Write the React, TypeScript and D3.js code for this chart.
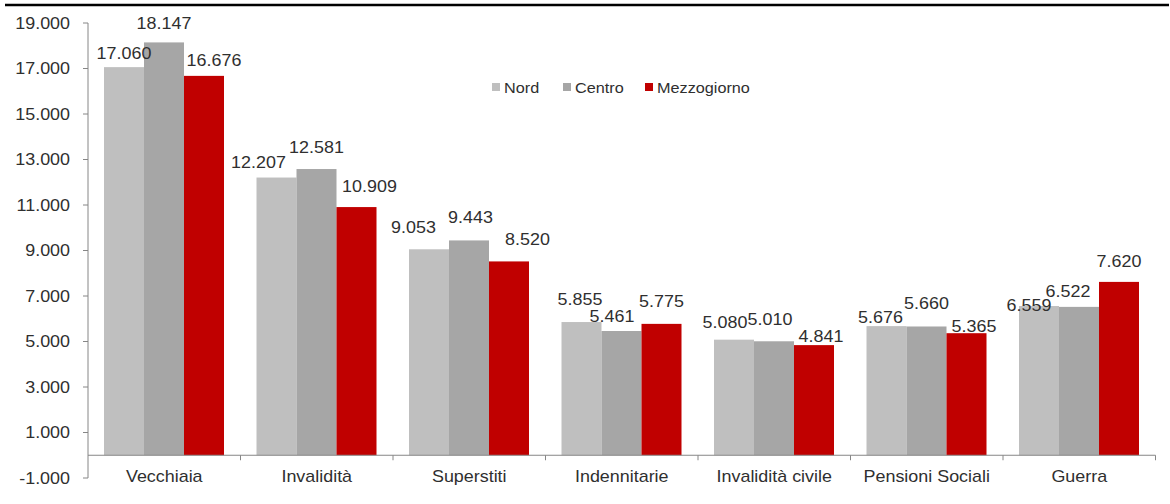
import React from 'react';
import * as d3 from 'd3';

const categories = ['Vecchiaia', 'Invalidità', 'Superstiti', 'Indennitarie', 'Invalidità civile', 'Pensioni Sociali', 'Guerra'];
const seriesNames = ['Nord', 'Centro', 'Mezzogiorno'];
const nord = [17060, 12207, 9053, 5855, 5080, 5676, 6559];
const centro = [18147, 12581, 9443, 5461, 5010, 5660, 6522];
const mezzogiorno = [16676, 10909, 8520, 5775, 4841, 5365, 7620];
const yTicks = [-1000, 1000, 3000, 5000, 7000, 9000, 11000, 13000, 15000, 17000, 19000];
const colors = ['#bfbfbf', '#a6a6a6', '#c00000'];

// hand-placed label nudges, as in the original: [dx, gap above bar top] per category, per series
const labelNudge = [
  [[0, 8], [0, 13], [10, 10]],
  [[-18, 9.5], [0, 16.5], [13, 15.5]],
  [[-15.5, 16], [1.5, 17], [18.5, 16]],
  [[-1.5, 17], [-9.5, 9.5], [0, 17]],
  [[-9, 11.5], [-4, 16], [7, 3.5]],
  [[-6, 3], [0, 17], [7.5, 1.5]],
  [[-10, -4.5], [-11, 10], [0, 15]],
];

const it = d3.formatLocale({ decimal: ',', thousands: '.', grouping: [3], currency: ['€', ''], minus: '-' });
const fmt = it.format(',d');

const W = 1170;
const H = 504;
const left = 88;
const right = 1155.5;
const axisCol = '#868686';
const textCol = '#2f2f2f';
const font = '"Liberation Sans", Arial, sans-serif';
const sx = 1.12;

const App = () => {
  const series = [nord, centro, mezzogiorno];
  const y = d3.scaleLinear().domain([-1000, 19000]).range([478, 23]);
  const x0 = d3.scaleBand().domain(categories).range([left, right]).padding(0);
  const x1 = d3.scaleBand().domain(seriesNames).range([16, x0.bandwidth() - 16.5]).padding(0);
  const y0 = y(0);

  const T = (props: { x: number; y: number; anchor?: string; size?: number; children: any }) => (
    <text
      transform={`translate(${props.x},${props.y}) scale(${sx},1)`}
      textAnchor={props.anchor || 'middle'}
      fontSize={props.size || 16}
      fontFamily={font}
      fill={textCol}
    >
      {props.children}
    </text>
  );

  return (
    <svg width={W} height={H} style={{ position: 'absolute', left: 0, top: 0, background: '#fff' }}>
      <line x1={5} x2={1169} y1={5} y2={5} stroke="#000" strokeWidth={2.5} />

      {/* y axis */}
      <line x1={left} x2={left} y1={y(-1000)} y2={y(19000)} stroke={axisCol} strokeWidth={1} />
      {yTicks.map((t) => (
        <g key={t}>
          <line x1={left - 5} x2={left} y1={y(t)} y2={y(t)} stroke={axisCol} />
          <T x={70} y={y(t) + 5.5} anchor="end">{fmt(t)}</T>
        </g>
      ))}

      {/* bars */}
      {categories.map((c, i) => (
        <g key={c} transform={`translate(${x0(c)},0)`}>
          {seriesNames.map((s, j) => {
            const v = series[j][i];
            return (
              <rect key={s} x={x1(s)} width={x1.bandwidth()} y={y(v)} height={y0 - y(v)} fill={colors[j]} />
            );
          })}
        </g>
      ))}

      {/* x axis */}
      <line x1={left} x2={right} y1={y0} y2={y0} stroke={axisCol} strokeWidth={1.2} />
      {categories.map((c) => (
        <line key={c} x1={(x0(c) as number) + x0.bandwidth()} x2={(x0(c) as number) + x0.bandwidth()} y1={y0} y2={y0 + 5} stroke={axisCol} />
      ))}
      {categories.map((c) => (
        <T key={c} x={(x0(c) as number) + x0.bandwidth() / 2} y={482}>{c}</T>
      ))}

      {/* value labels */}
      {categories.map((c, i) =>
        seriesNames.map((s, j) => {
          const v = series[j][i];
          const [dx, gap] = labelNudge[i][j];
          return (
            <T key={c + s} x={(x0(c) as number) + (x1(s) as number) + x1.bandwidth() / 2 + dx} y={y(v) - gap}>
              {fmt(v)}
            </T>
          );
        })
      )}

      {/* legend */}
      {[492, 563, 645].map((lx, j) => (
        <g key={seriesNames[j]}>
          <rect x={lx} y={83} width={8} height={8} fill={colors[j]} />
          <T x={lx + 12} y={93} anchor="start" size={14.5}>{seriesNames[j]}</T>
        </g>
      ))}
    </svg>
  );
};

export default App;
